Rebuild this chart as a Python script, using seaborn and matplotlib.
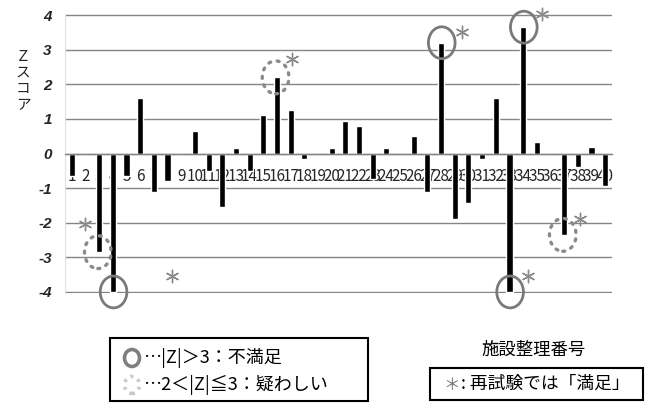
import matplotlib
matplotlib.use("Agg")
import matplotlib.pyplot as plt
from matplotlib.patches import Ellipse, Rectangle
from matplotlib.font_manager import FontProperties
import seaborn as sns
import pandas as pd

# facility numbers and their Z scores
facility = list(range(1, 41))
z_score = [-0.65, 0.0, -2.85, -4.0, -0.65, 1.6, -1.1, -0.8, 0.0, 0.65,
           -0.5, -1.55, 0.15, -0.5, 1.1, 2.2, 1.25, -0.15, 0.0, 0.17,
           0.95, 0.8, -0.75, 0.17, 0.0, 0.5, -1.1, 3.2, -1.9, -1.42,
           -0.15, 1.6, -4.0, 3.65, 0.33, 0.0, -2.35, -0.4, 0.18, -0.95]
tick_labels = [str(n) for n in facility]
y_ticks = [-4, -3, -2, -1, 0, 1, 2, 3, 4]

# |Z| > 3 (unsatisfactory) and 2 < |Z| <= 3 (questionable)
unsatisfactory = [4, 28, 33, 34]
questionable = [3, 16, 37]
# asterisks: satisfactory on re-test (facility position, z position)
retest_x = [1.97, 8.32, 17.09, 29.53, 35.38, 34.33, 38.18]
retest_y = [-2.05, -3.55, 2.72, 3.50, 4.02, -3.53, -1.88]

W, H = 648, 405
fig = plt.figure(figsize=(W / 100, H / 100), dpi=100)
sns.set_theme(style="white")
plt.rcParams["font.family"] = ["Noto Sans CJK JP", "DejaVu Sans"]
plt.rcParams["axes.axisbelow"] = True

ytick_font = FontProperties(family="Liberation Sans", weight="bold",
                            style="italic", size=11)
xtick_font = FontProperties(family="Liberation Sans Narrow", weight="bold",
                            style="italic", size=8.4)

ax = fig.add_axes([65 / W, (H - 293) / H, (612 - 65) / W, (293 - 14) / H])
df = pd.DataFrame({"facility": facility, "z": z_score})
sns.barplot(data=df, x="facility", y="z", color="black", saturation=1,
            width=0.45, ax=ax, zorder=2)

ax.set_xlim(-0.5, 39.5)
ax.set_ylim(-4.03, 4.03)
ax.set_xlabel("")
ax.set_ylabel("")

grid_col = "#858585"
ax.set_yticks(y_ticks)
ax.set_yticklabels([str(v) for v in y_ticks])
for lbl in ax.get_yticklabels():
    lbl.set_fontproperties(ytick_font)
ax.tick_params(axis="y", length=0, pad=9.5)
ax.yaxis.grid(True, color=grid_col, linewidth=1.0)
ax.xaxis.grid(False)

ax.set_xticks(range(len(facility)))
ax.set_xticklabels(tick_labels)
for lbl in ax.get_xticklabels():
    lbl.set_fontproperties(xtick_font)
ax.tick_params(axis="x", length=2.2, width=0.8, color="#9a9a9a", pad=8.0,
               direction="out")

for side in ["top", "right"]:
    ax.spines[side].set_visible(False)
ax.spines["left"].set_color("#e2e2e2")
ax.spines["left"].set_linewidth(0.8)
ax.spines["bottom"].set_position(("data", 0))
ax.spines["bottom"].set_color(grid_col)
ax.spines["bottom"].set_linewidth(1.0)

# rings around flagged results
for f in unsatisfactory:
    i = facility.index(f)
    ax.add_patch(Ellipse((i + 0.05, z_score[i]), 1.95, 0.92, fill=False,
                         edgecolor="#7a7a7a", linewidth=2.0, zorder=4,
                         clip_on=False))
for f in questionable:
    i = facility.index(f)
    ax.add_patch(Ellipse((i - 0.1, z_score[i]), 1.95, 0.95, fill=False,
                         edgecolor="#8a8a8a", linewidth=2.4,
                         linestyle=(0, (0.6, 2.0)), capstyle="round",
                         zorder=4, clip_on=False))

ax.scatter([x - 1 for x in retest_x], retest_y, marker=(6, 2, 0), s=80,
           color="#8a8a8a", linewidths=1.0, zorder=5, clip_on=False)

# vertical axis title
fig.text(23 / W, 1 - 81 / H, "Ｚ\nス\nコ\nア", ha="center", va="center",
         fontsize=10.5, linespacing=1.2, color="#222222")

# legend box for the rings
fig.add_artist(Rectangle((110 / W, 1 - 401 / H), (368 - 110) / W,
                         (401 - 338) / H, transform=fig.transFigure,
                         fill=False, edgecolor="black", linewidth=1.5))
fig.add_artist(Ellipse((132 / W, 1 - 358 / H), 15 / W, 17 / H,
                       transform=fig.transFigure, fill=False,
                       edgecolor="#808080", linewidth=2.6))
fig.add_artist(Ellipse((132 / W, 1 - 385 / H), 15 / W, 17 / H,
                       transform=fig.transFigure, fill=False,
                       edgecolor="#c8c8c8", linewidth=2.6,
                       linestyle=(0, (0.8, 1.4))))
fig.text(143 / W, 1 - 358 / H, "…|Z|＞3：不満足", ha="left", va="center",
         fontsize=13, color="black")
fig.text(143 / W, 1 - 385 / H, "…2＜|Z|≦3：疑わしい", ha="left",
         va="center", fontsize=13, color="black")

# horizontal axis title
fig.text(534 / W, 1 - 350 / H, "施設整理番号", ha="center", va="center",
         fontsize=12.5, color="black")

# legend box for the asterisk
fig.add_artist(Rectangle((430 / W, 1 - 400 / H), (643 - 430) / W,
                         (400 - 368) / H, transform=fig.transFigure,
                         fill=False, edgecolor="black", linewidth=1.5))
fig.text(452 / W, 1 - 385 / H, "＊", ha="center", va="center",
         fontsize=12, color="#777777")
fig.text(461 / W, 1 - 384 / H, ": 再試験では「満足」", ha="left",
         va="center", fontsize=12.8, color="black")

fig.savefig("out.png", dpi=100)
